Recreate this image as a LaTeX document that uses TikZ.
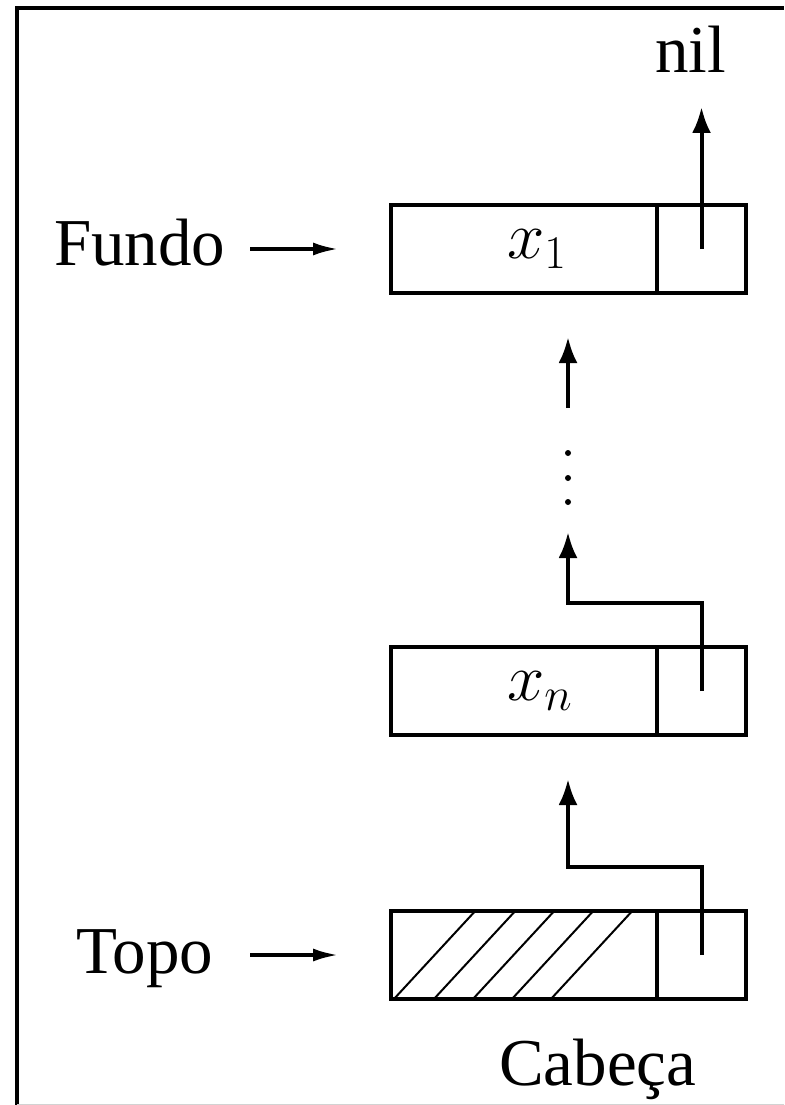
\RequirePackage{fix-cm}
\documentclass[tikz,border=0pt]{standalone}
\usepackage{fontspec}
\setmainfont{Liberation Serif}
\usetikzlibrary{arrows.meta}
\begin{document}
\begin{tikzpicture}[x=1pt,y=-1pt,
  cell/.style={draw, line width=4pt, minimum height=88pt, inner sep=0pt, anchor=center},
  datacell/.style={cell, minimum width=266pt},
  ptrcell/.style={cell, minimum width=89pt},
  lbl/.style={font=\fontsize{67}{80}\selectfont, inner sep=0pt, anchor=base west},
  link/.style={line width=4pt, -{Latex[length=26pt,width=19pt]}},
  harr/.style={line width=4pt, -{Latex[length=26pt,width=13pt]}},
  hatch/.style={line width=2pt},
  frame/.style={line width=4pt}
]
\useasboundingbox (0,0) rectangle (784,1105);
\draw[frame] (17,1105) -- (17,8.5) -- (784,8.5);
\draw[gray!35, line width=1pt] (17,1104) -- (784,1104);

% hatching (drawn below the head cell)
\begin{scope}
  \clip (391,911) rectangle (657,999);
  \foreach \b in {393,433,472,511,550}
    \draw[hatch] (\b,1000) -- ++(85,-92);
\end{scope}

% cells
\node[datacell] (d1) at (524,249) {};
\node[ptrcell] (p1) at (701.5,249) {};
\node[datacell] (dn) at (524,691) {};
\node[ptrcell] (pn) at (701.5,691) {};
\node[datacell] (dh) at (524,955) {};
\node[ptrcell] (ph) at (701.5,955) {};

% labels
\node[lbl] (nil) at (655,73) {nil};
\node[lbl] (fundo) at (54,265) {Fundo};
\node[lbl] (topo) at (76,973) {Topo};
\node[lbl] (cab) at (499,1085) {Cabeça};
\node[lbl] (x1) at (507,258) {$x_1$};
\node[lbl] (xn) at (507,700) {$x_n$};

% coordinates
\coordinate (nilend) at (700,107);
\coordinate (nbend) at (568,603);
\coordinate (ntip) at (568,532);
\coordinate (ustart) at (568,408);
\coordinate (utip) at (568,337);
\coordinate (hbend) at (568,867);
\coordinate (htip) at (568,779);
\coordinate (fstart) at (250,249);
\coordinate (tstart) at (250,955);

% pointers
\draw[link] (p1.center) -- (p1.center |- nilend);
\draw[link] (pn.center) |- (nbend) -- (ntip);
\draw[link] (ustart) -- (utip);
\draw[link] (ph.center) |- (hbend) -- (htip);

% dots
\foreach \y in {453,478,502}
  \fill (568,\y) circle (3pt);

% side arrows
\draw[harr, shorten >=50pt] (fstart) -- (d1.west);
\draw[harr, shorten >=50pt] (tstart) -- (dh.west);
\end{tikzpicture}
\end{document}
